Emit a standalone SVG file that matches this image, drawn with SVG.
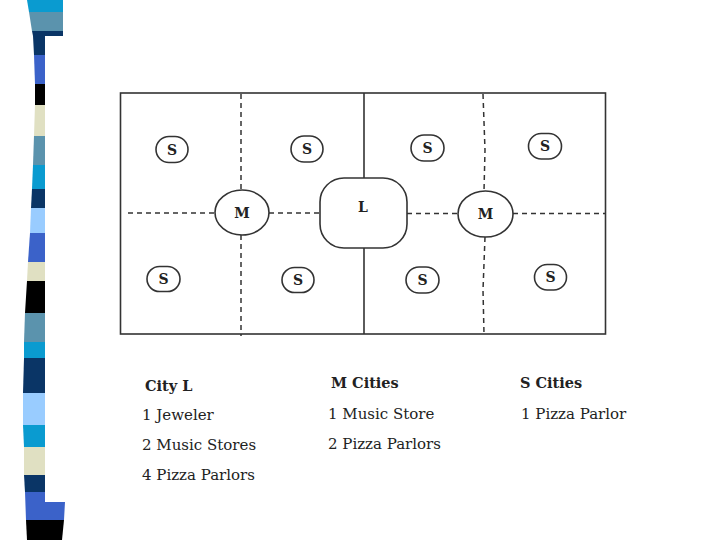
<svg xmlns="http://www.w3.org/2000/svg" width="720" height="540" viewBox="0 0 720 540">
<style>
.frame{fill:none;stroke:#333;stroke-width:1.6}
.dash{fill:none;stroke:#333;stroke-width:1.5;stroke-dasharray:5,4}
.node{fill:#fff;stroke:#333;stroke-width:1.6}
.lbl{font-family:"DejaVu Serif","Liberation Serif",serif;font-weight:bold;font-size:14px;fill:#222;text-anchor:middle}
.hd{font-family:"DejaVu Serif","Liberation Serif",serif;font-weight:bold;font-size:14.5px;fill:#222}
.tx{font-family:"DejaVu Serif","Liberation Serif",serif;font-size:15px;fill:#222}
</style>
<rect width="720" height="540" fill="#fff"/>
<g id="stripe-bar">
<polygon points="27,0 63,0 63,12 29,12" fill="#0a9bd0"/>
<polygon points="29,12 63,12 63,31 32,31" fill="#5b93ad"/>
<polygon points="32,31 63,31 63,36 45,36 45,55 34,55 33,36" fill="#0a3566"/>
<polygon points="34,55 45,55 45,84 35,84" fill="#3b62c9"/>
<polygon points="35,84 45,84 45,105 35,105" fill="#000"/>
<polygon points="35,105 45,105 45,136 34,136" fill="#e0e0c2"/>
<polygon points="34,136 45,136 45,165 33,165" fill="#5b93ad"/>
<polygon points="33,165 45,165 45,189 32,189" fill="#0a9bd0"/>
<polygon points="32,189 45,189 45,208 31,208" fill="#0a3566"/>
<polygon points="31,208 45,208 45,233 30,233" fill="#99ccff"/>
<polygon points="30,233 45,233 45,262 28,262" fill="#3b62c9"/>
<polygon points="28,262 45,262 45,281 27,281" fill="#e0e0c2"/>
<polygon points="27,281 45,281 45,313 25,313" fill="#000"/>
<polygon points="25,313 45,313 45,342 24,342" fill="#5b93ad"/>
<polygon points="24,342 45,342 45,358 24,358" fill="#0a9bd0"/>
<polygon points="24,358 45,358 45,393 23,393" fill="#0a3566"/>
<polygon points="23,393 45,393 45,425 23,425" fill="#99ccff"/>
<polygon points="23,425 45,425 45,447 24,447" fill="#0a9bd0"/>
<polygon points="24,447 45,447 45,475 24,475" fill="#e0e0c2"/>
<polygon points="24,475 45,475 45,492 25,492" fill="#0a3566"/>
<polygon points="25,492 45,492 45,502 65,502 64,520 26,520" fill="#3b62c9"/>
<polygon points="26,520 64,520 62,540 27,540" fill="#000"/>
</g>
<g id="connectors">
<rect class="frame" x="120.5" y="93" width="485" height="241"/>
<line class="frame" x1="364" y1="93" x2="364" y2="178"/>
<line class="frame" x1="364" y1="248" x2="364" y2="334"/>
<line class="dash" x1="241" y1="94" x2="241" y2="190"/>
<line class="dash" x1="241" y1="235" x2="241" y2="336"/>
<path class="dash" d="M483,94 L485,150 L484,191"/>
<path class="dash" d="M485,237 L483,290 L484,334"/>
<line class="dash" x1="128" y1="213" x2="215" y2="213"/>
<line class="dash" x1="269" y1="213" x2="320" y2="213"/>
<line class="dash" x1="407" y1="213.5" x2="458" y2="213.5"/>
<line class="dash" x1="513" y1="213.5" x2="605" y2="213.5"/>
</g>
<g id="L"><rect class="node" x="320" y="178" width="87" height="70" rx="24" ry="24"/><text class="lbl" x="363" y="212">L</text></g>
<g id="M1"><ellipse class="node" cx="242" cy="212.5" rx="27" ry="22.5"/><text class="lbl" x="242" y="217.5">M</text></g>
<g id="M2"><ellipse class="node" cx="485.5" cy="214" rx="27.5" ry="23"/><text class="lbl" x="485.5" y="219">M</text></g>
<g id="S1"><rect class="node" x="156" y="136.5" width="32" height="26" rx="13"/><text class="lbl" x="172" y="154.5">S</text></g>
<g id="S2"><rect class="node" x="291" y="136" width="32" height="26" rx="13"/><text class="lbl" x="307" y="154">S</text></g>
<g id="S3"><rect class="node" x="147" y="266.5" width="33" height="25" rx="12.5"/><text class="lbl" x="163.5" y="284">S</text></g>
<g id="S4"><rect class="node" x="282" y="267.5" width="32" height="25" rx="12.5"/><text class="lbl" x="298" y="285">S</text></g>
<g id="S5"><rect class="node" x="411" y="135" width="33" height="26" rx="13"/><text class="lbl" x="427.5" y="153">S</text></g>
<g id="S6"><rect class="node" x="528.5" y="133.5" width="33" height="25.5" rx="12.7"/><text class="lbl" x="545" y="151">S</text></g>
<g id="S7"><rect class="node" x="406" y="267" width="33" height="26" rx="13"/><text class="lbl" x="422.5" y="285">S</text></g>
<g id="S8"><rect class="node" x="534.5" y="264.5" width="32" height="25.5" rx="12.7"/><text class="lbl" x="550.5" y="282">S</text></g>
<g id="legend">
<text class="hd" x="145" y="391">City L</text>
<text class="tx" x="142" y="420">1 Jeweler</text>
<text class="tx" x="142" y="450">2 Music Stores</text>
<text class="tx" x="142" y="480">4 Pizza Parlors</text>
<text class="hd" x="331" y="387.5">M Cities</text>
<text class="tx" x="328" y="419">1 Music Store</text>
<text class="tx" x="328" y="448.5">2 Pizza Parlors</text>
<text class="hd" x="520" y="388">S Cities</text>
<text class="tx" x="521" y="419">1 Pizza Parlor</text>
</g>
</svg>
